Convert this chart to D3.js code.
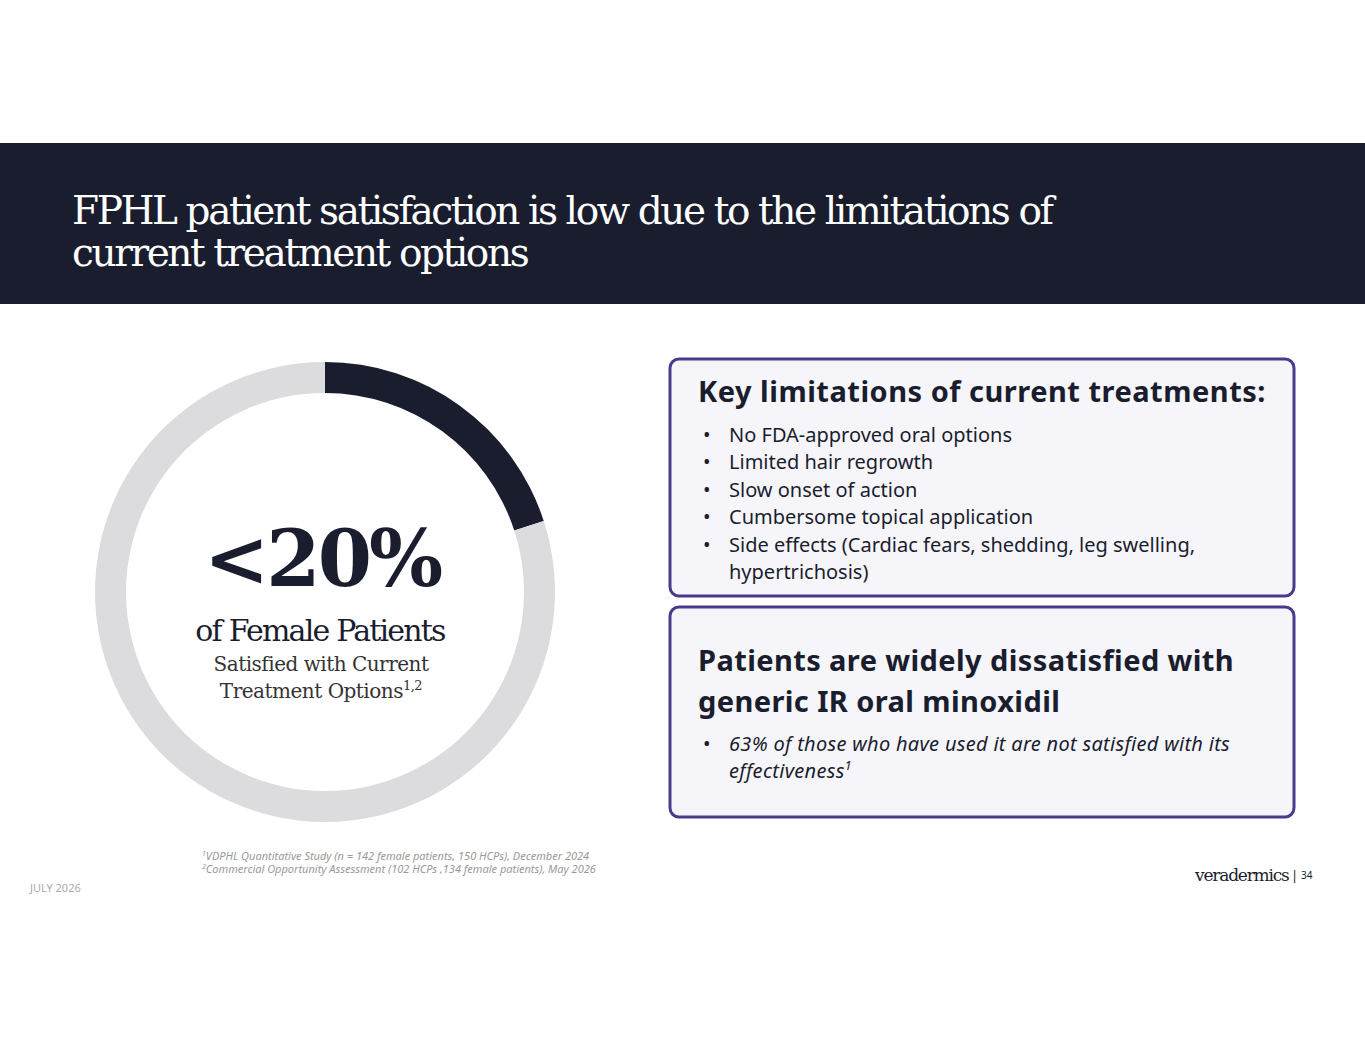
<!DOCTYPE html>
<html><head><meta charset="utf-8">
<script src="https://cdn.jsdelivr.net/npm/d3@7"></script>
<style>
body{margin:0;background:#fff;}
</style></head>
<body><div id="chart"></div>
<script>
// data
const segments = ["Satisfied", "Not satisfied"];
const shares = [20, 80];
const segColors = ["#1a1d2e", "#dcdcde"];
const limitations = ["No FDA-approved oral options", "Limited hair regrowth", "Slow onset of action",
  "Cumbersome topical application", "Side effects (Cardiac fears, shedding, leg swelling,", "hypertrichosis)"];

const W = 1365, H = 1055;
const svg = d3.select("#chart").append("svg").attr("width", W).attr("height", H);
const serif = "'DejaVu Serif', 'Liberation Serif', serif";
const sans = "'Noto Sans', 'Open Sans', sans-serif";
const navy = "#1a1d2e";

// header
svg.append("rect").attr("x", 0).attr("y", 143).attr("width", W).attr("height", 161).attr("fill", navy);
svg.append("text").attr("x", 72).attr("y", 224).attr("fill", "#fff").attr("font-family", serif)
  .attr("font-size", 39).attr("letter-spacing", -2.4).text("FPHL patient satisfaction is low due to the limitations of");
svg.append("text").attr("x", 72).attr("y", 266).attr("fill", "#fff").attr("font-family", serif)
  .attr("font-size", 39).attr("letter-spacing", -2.4).text("current treatment options");

// donut
const g = svg.append("g").attr("transform", "translate(325,592)");
const pie = d3.pie().sort(null).value(d => d);
const arc = d3.arc().innerRadius(199).outerRadius(230);
g.selectAll("path").data(pie(shares)).join("path").attr("d", arc).attr("fill", (d, i) => segColors[i]);
g.append("text").attr("x", -3).attr("y", -6).attr("text-anchor", "middle").attr("font-family", serif)
  .attr("font-weight", "bold").attr("font-size", 78).attr("fill", navy).attr("letter-spacing", -3).text("<20%");
g.append("text").attr("x", -5).attr("y", 49).attr("text-anchor", "middle").attr("font-family", serif)
  .attr("font-size", 30).attr("fill", navy).attr("letter-spacing", -1.8).text("of Female Patients");
g.append("text").attr("x", -4).attr("y", 79).attr("text-anchor", "middle").attr("font-family", serif)
  .attr("font-size", 20).attr("fill", "#333").attr("letter-spacing", -0.5).text("Satisfied with Current");
const t2 = g.append("text").attr("x", -4).attr("y", 106).attr("text-anchor", "middle").attr("font-family", serif)
  .attr("font-size", 20).attr("fill", "#333").attr("letter-spacing", -0.5);
t2.append("tspan").text("Treatment Options");
t2.append("tspan").attr("font-size", 13).attr("dy", -8).text("1,2");

// boxes
function box(y, h) {
  svg.append("rect").attr("x", 670).attr("y", y).attr("width", 624).attr("height", h).attr("rx", 9)
    .attr("fill", "#f6f6fa").attr("stroke", "#4b3a8c").attr("stroke-width", 3);
}
box(359, 237);
box(607, 210);
svg.append("text").attr("x", 698).attr("y", 402).attr("font-family", sans).attr("font-weight", "bold")
  .attr("font-size", 29).attr("letter-spacing", 0.5).attr("fill", navy).text("Key limitations of current treatments:");
limitations.forEach((s, i) => {
  const y = 442 + i * 27.4;
  if (i < 5) svg.append("text").attr("x", 703).attr("y", y).attr("font-family", sans).attr("font-size", 20).attr("fill", navy).text("•");
  svg.append("text").attr("x", 729).attr("y", y).attr("font-family", sans).attr("font-size", 20).attr("fill", navy).text(s);
});
svg.append("text").attr("x", 698).attr("y", 671).attr("font-family", sans).attr("font-weight", "bold")
  .attr("font-size", 29).attr("letter-spacing", 0.4).attr("fill", navy).text("Patients are widely dissatisfied with");
svg.append("text").attr("x", 698).attr("y", 712).attr("font-family", sans).attr("font-weight", "bold")
  .attr("font-size", 29).attr("letter-spacing", 0.4).attr("fill", navy).text("generic IR oral minoxidil");
svg.append("text").attr("x", 703).attr("y", 751).attr("font-family", sans).attr("font-size", 20).attr("fill", navy).text("•");
svg.append("text").attr("x", 729).attr("y", 751).attr("font-family", sans).attr("font-style", "italic")
  .attr("font-size", 20).attr("letter-spacing", 0.3).attr("fill", navy).text("63% of those who have used it are not satisfied with its");
const e = svg.append("text").attr("x", 729).attr("y", 778).attr("font-family", sans).attr("font-style", "italic")
  .attr("font-size", 20).attr("letter-spacing", 0.3).attr("fill", navy);
e.append("tspan").text("effectiveness");
e.append("tspan").attr("font-size", 13).attr("dy", -8).text("1");

// footnotes
[["1", "VDPHL Quantitative Study (n = 142 female patients, 150 HCPs), December 2024", 860],
 ["2", "Commercial Opportunity Assessment (102 HCPs ,134 female patients), May 2026", 873]].forEach(f => {
  const t = svg.append("text").attr("x", 202).attr("y", f[2]).attr("font-family", sans).attr("font-style", "italic")
    .attr("font-size", 11).attr("fill", "#999");
  t.append("tspan").attr("font-size", 7).attr("dy", -4).text(f[0]);
  t.append("tspan").attr("dy", 4).text(f[1]);
});
svg.append("text").attr("x", 30).attr("y", 892).attr("font-family", sans).attr("font-size", 11).attr("fill", "#aaa").text("JULY 2026");
svg.append("text").attr("x", 1195).attr("y", 881).attr("font-family", serif).attr("font-size", 17).attr("fill", navy).attr("letter-spacing", -1.2).text("veradermics");
svg.append("text").attr("x", 1291).attr("y", 880).attr("font-family", sans).attr("font-size", 13).attr("fill", navy).text("|");
svg.append("text").attr("x", 1301).attr("y", 879).attr("font-family", sans).attr("font-size", 10).attr("fill", navy).text("34");
</script></body></html>
